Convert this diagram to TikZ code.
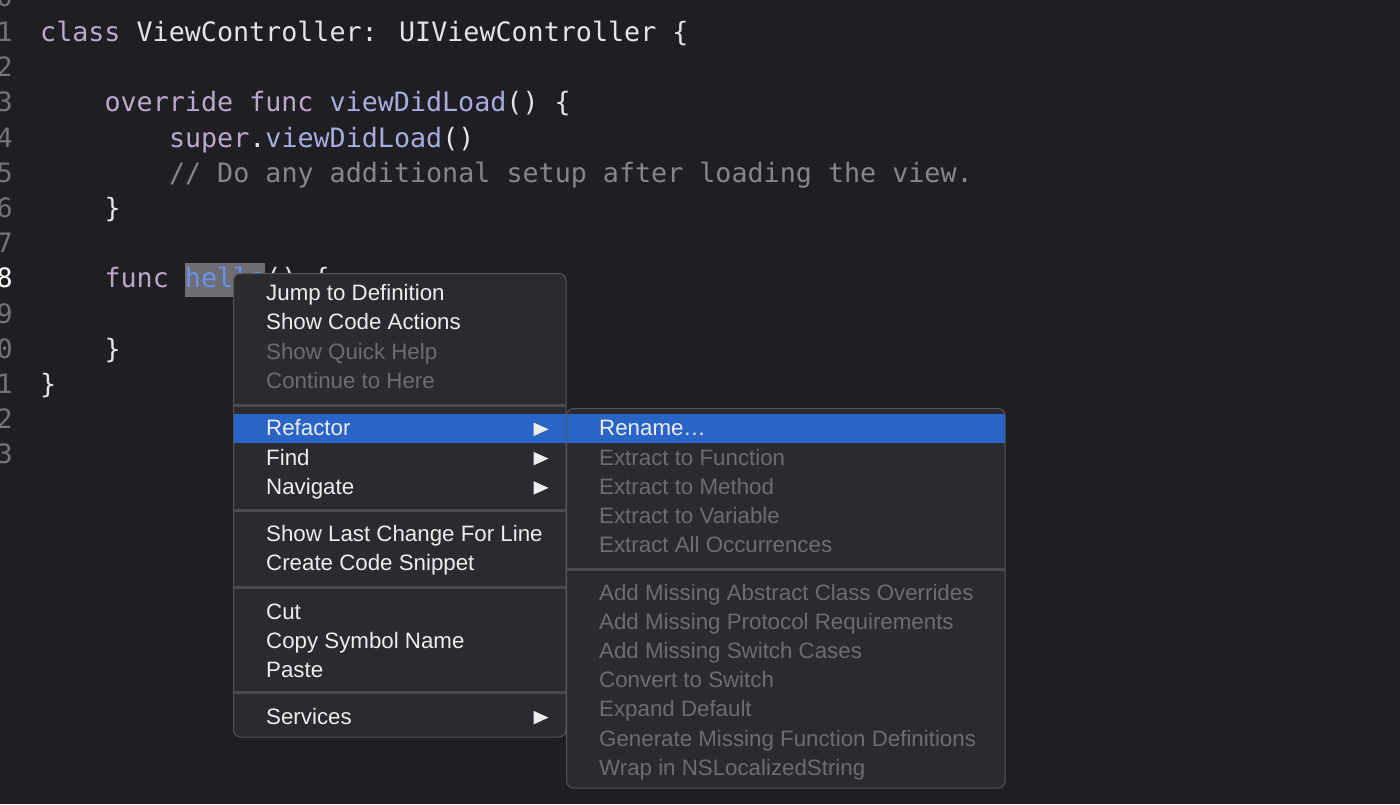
\documentclass[tikz,border=0pt]{standalone}
\usepackage{fontspec}
\newfontfamily\codefam{DejaVu Sans Mono}
\newfontfamily\menufam{Liberation Sans}
\definecolor{bg}{HTML}{1F1F23}
\definecolor{lnum}{HTML}{737378}
\definecolor{kw}{HTML}{BBA9CC}
\definecolor{idt}{HTML}{E4E4E6}
\definecolor{fn}{HTML}{A9ABDF}
\definecolor{cmt}{HTML}{85858C}
\definecolor{selbg}{HTML}{6E6E74}
\definecolor{selfg}{HTML}{6A93F0}
\definecolor{menubg}{HTML}{2B2B2F}
\definecolor{menuedge}{HTML}{55555A}
\definecolor{sepc}{HTML}{4A4A4F}
\definecolor{hil}{HTML}{2A64C6}
\definecolor{itemfg}{HTML}{EDEDED}
\definecolor{disfg}{HTML}{6C6C71}
\begin{document}
\begin{tikzpicture}[x=1pt,y=-1pt,
  code/.style={anchor=base west, inner sep=0pt, font=\codefam\fontsize{26.7}{30}\selectfont, text=idt},
  lno/.style={anchor=base east, inner sep=0pt, font=\codefam\fontsize{26.7}{30}\selectfont, text=lnum},
  item/.style={anchor=base west, inner sep=0pt, font=\menufam\fontsize{22.3}{26}\selectfont, text=itemfg},
  dis/.style={item, text=disfg},
  menubox/.style={draw=menuedge, line width=1pt, fill=menubg, rounded corners=7pt},
  sepline/.style={draw=sepc, line width=3pt},
  hilite/.style={fill=hil},
  subarrow/.style={fill=itemfg}]
\useasboundingbox (0,0) rectangle (1400,804);
\fill[bg] (0,0) rectangle (1400,804);
\begin{scope}
\clip (0,0) rectangle (1400,804);
% line numbers
\node[lno] (l0) at (13,6.3) {0};
\node[lno] (l1) at (13,41.5) {1};
\node[lno] (l2) at (13,76.7) {2};
\node[lno] (l3) at (13,111.9) {3};
\node[lno] (l4) at (13,147.1) {4};
\node[lno] (l5) at (13,182.3) {5};
\node[lno] (l6) at (13,217.5) {6};
\node[lno] (l7) at (13,252.7) {7};
\node[lno, text=white] (l8) at (13,287.9) {8};
\node[lno] (l9) at (13,323.1) {9};
\node[lno] (l10) at (13,358.3) {0};
\node[lno] (l11) at (13,393.5) {1};
\node[lno] (l12) at (13,428.7) {2};
\node[lno] (l13) at (13,463.9) {3};
% code
\node[code] (c1) at (40,41.5) {{\color{kw}class} ViewController: UIViewController \{};
\node[code] (c3) at (104.4,111.9) {{\color{kw}override func} {\color{fn}viewDidLoad}() \{};
\node[code] (c4) at (168.8,147.1) {{\color{kw}super}.{\color{fn}viewDidLoad}()};
\node[code, text=cmt] (c5) at (168.8,182.3) {// Do any additional setup after loading the view.};
\node[code] (c6) at (104.4,217.5) {\}};
\fill[selbg] (184.9,262.8) rectangle (265.4,297.3);
\node[code] (c8) at (104.4,287.9) {{\color{kw}func} {\color{selfg}hello}() \{};
\node[code] (c10) at (104.4,358.3) {\}};
\node[code] (c11) at (40,393.5) {\}};
\end{scope}
% main context menu
\draw[menubox] (233.5,273.5) rectangle (566,737);
\fill[hilite] (234,414) rectangle (565.5,443.3);
\draw[sepline] (234,405.3) -- (565.5,405.3);
\draw[sepline] (234,510.5) -- (565.5,510.5);
\draw[sepline] (234,587.5) -- (565.5,587.5);
\draw[sepline] (234,692.8) -- (565.5,692.8);
\node[item] (m1) at (266,300.5) {Jump to Definition};
\node[item] (m2) at (266,329.8) {Show Code Actions};
\node[dis] (m3) at (266,359.1) {Show Quick Help};
\node[dis] (m4) at (266,388.4) {Continue to Here};
\node[item] (m5) at (266,435.7) {Refactor};
\node[item] (m6) at (266,465) {Find};
\node[item] (m7) at (266,494.3) {Navigate};
\node[item] (m8) at (266,541.5) {Show Last Change For Line};
\node[item] (m9) at (266,570.8) {Create Code Snippet};
\node[item] (m10) at (266,619) {Cut};
\node[item] (m11) at (266,648.3) {Copy Symbol Name};
\node[item] (m12) at (266,677.6) {Paste};
\node[item] (m13) at (266,724) {Services};
\fill[subarrow] (533.5,422.5) -- (548.5,429.3) -- (533.5,436.1) -- cycle;
\fill[subarrow] (533.5,451.8) -- (548.5,458.6) -- (533.5,465.4) -- cycle;
\fill[subarrow] (533.5,481.1) -- (548.5,487.9) -- (533.5,494.7) -- cycle;
\fill[subarrow] (533.5,710.8) -- (548.5,717.6) -- (533.5,724.4) -- cycle;
% refactor submenu
\draw[menubox] (566.5,408.5) rectangle (1005,788);
\fill[hilite] (567,414) rectangle (1004.5,443.3);
\draw[sepline] (567,569.5) -- (1004.5,569.5);
\node[item] (s1) at (599,435.7) {Rename…};
\node[dis] (s2) at (599,465) {Extract to Function};
\node[dis] (s3) at (599,494.3) {Extract to Method};
\node[dis] (s4) at (599,523.6) {Extract to Variable};
\node[dis] (s5) at (599,552.9) {Extract All Occurrences};
\node[dis] (s6) at (599,600.5) {Add Missing Abstract Class Overrides};
\node[dis] (s7) at (599,629.6) {Add Missing Protocol Requirements};
\node[dis] (s8) at (599,658.7) {Add Missing Switch Cases};
\node[dis] (s9) at (599,687.8) {Convert to Switch};
\node[dis] (s10) at (599,716.9) {Expand Default};
\node[dis] (s11) at (599,746) {Generate Missing Function Definitions};
\node[dis] (s12) at (599,775.1) {Wrap in NSLocalizedString};
\end{tikzpicture}
\end{document}
